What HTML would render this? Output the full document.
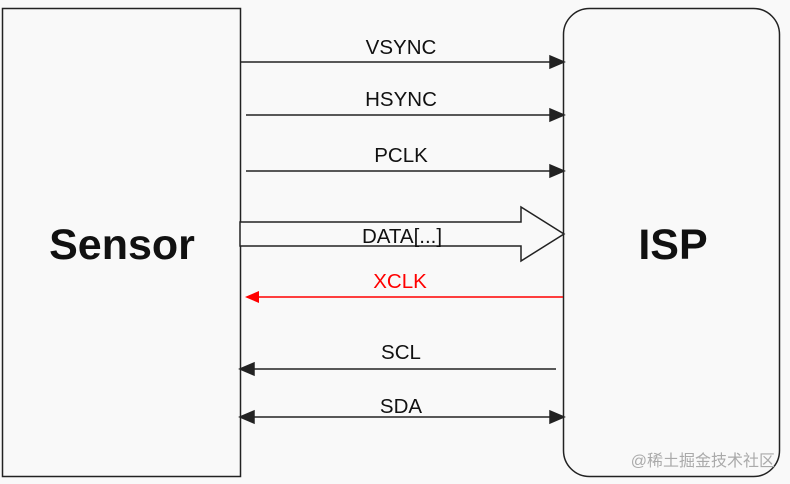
<!DOCTYPE html>
<html><head><meta charset="utf-8"><style>
html,body{margin:0;padding:0;background:#f9f9f9;}
svg{display:block;}
text{font-family:"Liberation Sans",Arial,sans-serif;}
</style></head><body>
<svg width="790" height="484" viewBox="0 0 790 484" xmlns="http://www.w3.org/2000/svg">
<rect x="0" y="0" width="790" height="484" fill="#f9f9f9"/>
<rect x="2.5" y="8.5" width="238" height="468" fill="none" stroke="#222" stroke-width="1.5"/>
<rect x="563.5" y="8.5" width="216" height="468" rx="26" fill="none" stroke="#222" stroke-width="1.5"/>
<text x="122" y="259" font-size="43" font-weight="bold" text-anchor="middle" fill="#111">Sensor</text>
<text x="673" y="259" font-size="43" font-weight="bold" text-anchor="middle" fill="#111">ISP</text>
<g stroke="#222" stroke-width="1.5" fill="#222">
<line x1="240" y1="62" x2="552" y2="62"/><polygon points="564,62 550,56 550,68"/>
<line x1="246" y1="115" x2="552" y2="115"/><polygon points="564,115 550,109 550,121"/>
<line x1="246" y1="171" x2="552" y2="171"/><polygon points="564,171 550,165 550,177"/>
<line x1="556" y1="369" x2="252" y2="369"/><polygon points="240,369 254,363 254,375"/>
<line x1="252" y1="417" x2="552" y2="417"/><polygon points="240,417 254,411 254,423"/><polygon points="564,417 550,411 550,423"/>
</g>
<polygon points="240,222 521,222 521,207 564,234 521,261 521,246 240,246" fill="#f9f9f9" stroke="#222" stroke-width="1.5"/>
<line x1="563" y1="297" x2="258" y2="297" stroke="#f00" stroke-width="1.5"/>
<polygon points="245,297 259,291 259,303" fill="#f00"/>
<g font-size="20.5" text-anchor="middle" fill="#111">
<text x="401" y="54">VSYNC</text>
<text x="401" y="106">HSYNC</text>
<text x="401" y="162">PCLK</text>
<text x="402" y="243">DATA[...]</text>
<text x="400" y="288" fill="#f00">XCLK</text>
<text x="401" y="359">SCL</text>
<text x="401" y="413">SDA</text>
</g>
<text x="775" y="466" font-size="16" text-anchor="end" fill="#aaa" style="font-family:'Liberation Sans','Noto Sans CJK SC',sans-serif">@稀土掘金技术社区</text>
</svg>
</body></html>
